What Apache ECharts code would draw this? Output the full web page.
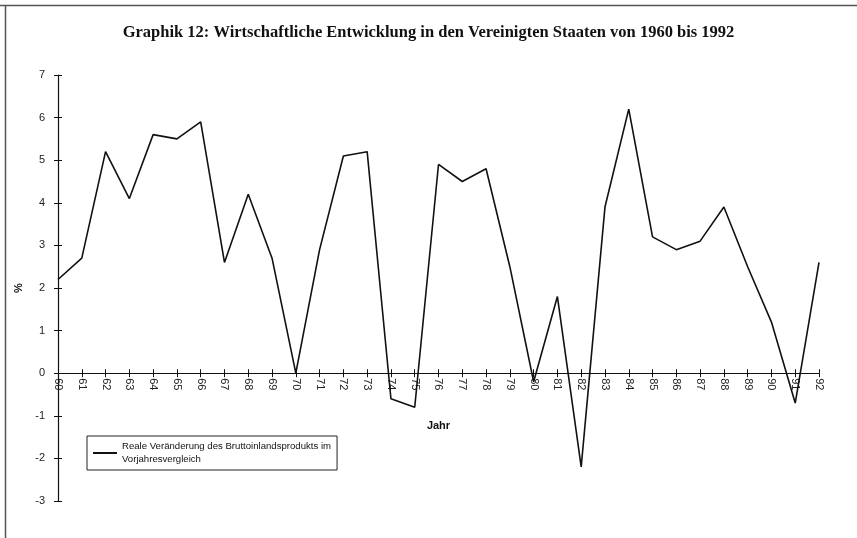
<!DOCTYPE html>
<html>
<head>
<meta charset="utf-8">
<script src="https://cdn.jsdelivr.net/npm/echarts@6/dist/echarts.min.js"></script>
<style>html,body{margin:0;padding:0;background:#fff}#c{width:857px;height:538px}</style>
</head>
<body>
<div id="c"></div>
<script>
const years = ['60','61','62','63','64','65','66','67','68','69','70','71','72','73','74','75','76','77','78','79','80','81','82','83','84','85','86','87','88','89','90','91','92'];
const gdpChange = [2.2,2.7,5.2,4.1,5.6,5.5,5.9,2.6,4.2,2.7,0.0,2.9,5.1,5.2,-0.6,-0.8,4.9,4.5,4.8,2.5,-0.2,1.8,-2.2,3.9,6.2,3.2,2.9,3.1,3.9,2.5,1.2,-0.7,2.6];
const seriesName = 'Reale Veränderung des Bruttoinlandsprodukts im\nVorjahresvergleich';
const titleText = 'Graphik 12: Wirtschaftliche Entwicklung in den Vereinigten Staaten von 1960 bis 1992';
const yMin = -3, yMax = 7;

const chart = echarts.init(document.getElementById('c'), null, {renderer:'canvas'});
const tickStyle = {color:'#111', width:1};
function xAxes(offset){
  return [{
    type:'category', data:years, boundaryGap:false, position:'bottom', offset:offset,
    axisLine:{onZero:false, lineStyle:{color:'#111', width:1.2}},
    axisTick:{show:true, inside:false, length:4, lineStyle:tickStyle},
    axisLabel:{rotate:-90, fontFamily:'Liberation Sans', fontSize:11, color:'#222', margin:5, interval:0},
    name:'Jahr', nameLocation:'middle', nameGap:47,
    nameTextStyle:{fontFamily:'Liberation Sans', fontWeight:'bold', fontSize:11, color:'#111'}
  },{
    type:'category', data:years, boundaryGap:false, position:'bottom', offset:offset,
    axisLine:{show:false, onZero:false},
    axisTick:{show:true, inside:true, length:4, lineStyle:tickStyle},
    axisLabel:{show:false}
  }];
}
const option = {
  backgroundColor:'#fff',
  animation:false,
  title:{
    text:titleText, left:'center', top:19,
    textStyle:{fontFamily:'Liberation Serif', fontWeight:'bold', fontSize:16.5, color:'#111'}
  },
  grid:{left:58, right:38, top:75, bottom:37, containLabel:false, outerBoundsMode:'none'},
  legend:{
    left:87, top:436, orient:'vertical',
    padding:[4,6,4,6],
    borderColor:'#222', borderWidth:1, borderRadius:0,
    itemWidth:24, itemHeight:2, itemGap:0,
    icon:'rect',
    textStyle:{fontFamily:'Liberation Sans', fontSize:9.6, color:'#111', lineHeight:13},
    data:[seriesName]
  },
  xAxis:xAxes(0),
  yAxis:[{
    type:'value', min:yMin, max:yMax, interval:1,
    axisLine:{show:true, lineStyle:{color:'#111', width:1.2}},
    axisTick:{show:true, length:4, lineStyle:tickStyle},
    axisLabel:{fontFamily:'Liberation Sans', fontSize:11, color:'#222', margin:13},
    splitLine:{show:false},
    name:'%', nameLocation:'middle', nameGap:22, nameRotate:90,
    nameTextStyle:{fontFamily:'Liberation Sans', fontWeight:'bold', fontSize:11, color:'#111'}
  },{
    type:'value', min:yMin, max:yMax, interval:1, position:'left',
    axisLine:{show:false},
    axisTick:{show:true, inside:true, length:4, lineStyle:tickStyle},
    axisLabel:{show:false}, splitLine:{show:false}
  }],
  series:[{
    name:seriesName, type:'line', data:gdpChange,
    xAxisIndex:0, yAxisIndex:0,
    showSymbol:false, symbol:'none',
    lineStyle:{color:'#111', width:1.6},
    itemStyle:{color:'#111'}
  }],
  graphic:[
    {type:'line', shape:{x1:0, y1:5.5, x2:857, y2:5.5}, style:{stroke:'#555', lineWidth:1.5}},
    {type:'line', shape:{x1:5.5, y1:5, x2:5.5, y2:538}, style:{stroke:'#555', lineWidth:1.5}}
  ]
};
chart.setOption(option);
// move x axis to the zero line using the library's own scale
const yZero = chart.convertToPixel({yAxisIndex:0}, 0);
const yBottom = chart.convertToPixel({yAxisIndex:0}, yMin);
chart.setOption({xAxis:xAxes(-(yBottom - yZero))});
</script>
</body>
</html>
